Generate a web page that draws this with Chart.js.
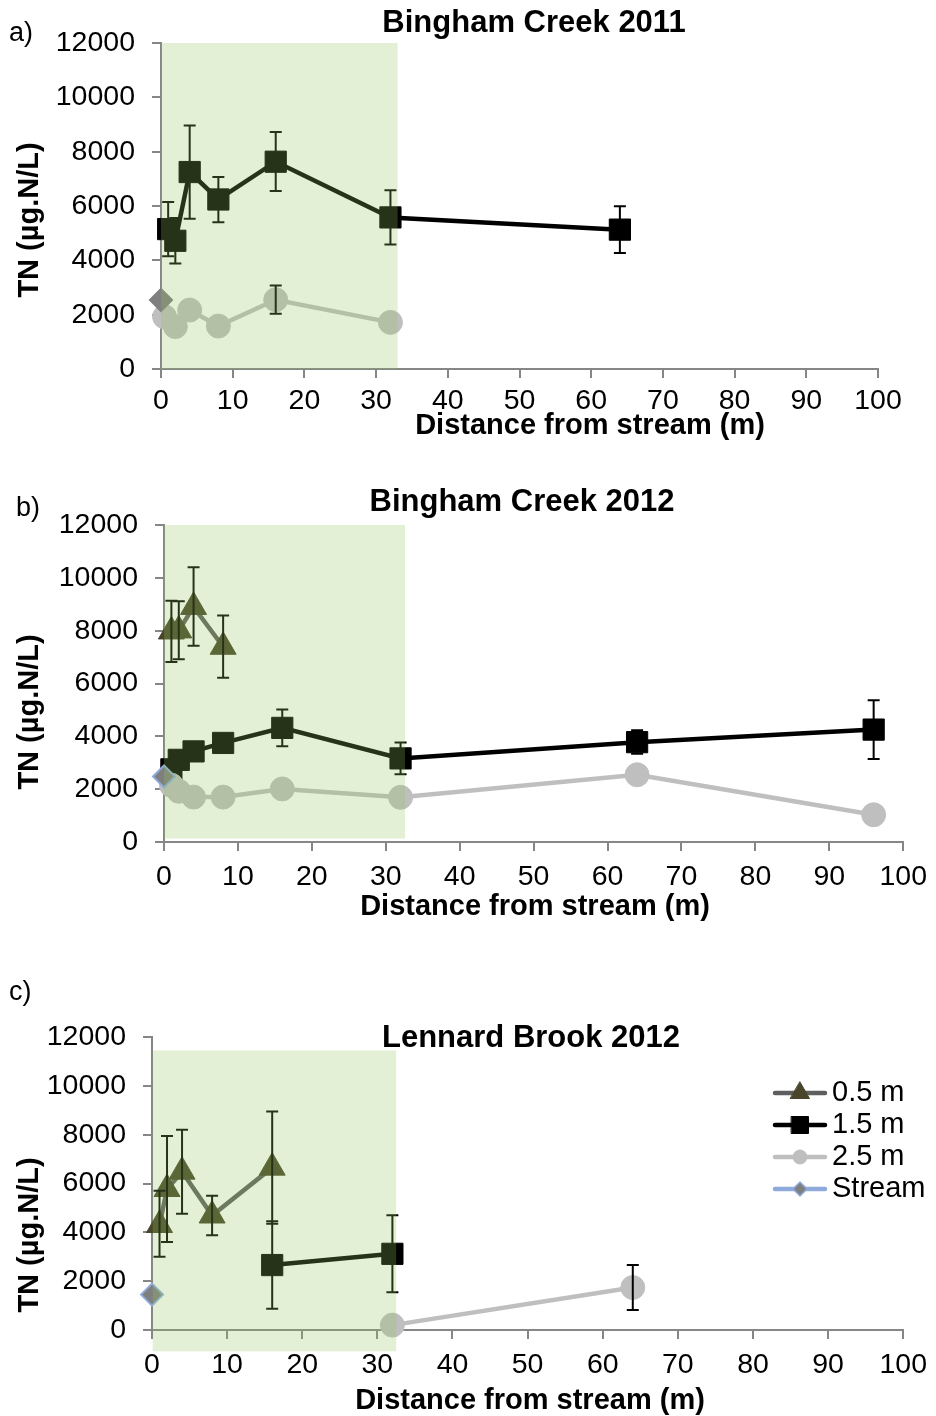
<!DOCTYPE html>
<html>
<head>
<meta charset="utf-8">
<script src="https://cdn.jsdelivr.net/npm/chart.js@4.4.1/dist/chart.umd.min.js"></script>
<style>
  html, body { margin:0; padding:0; background:#fff; }
  #wrap { position:relative; width:936px; height:1416px; overflow:hidden; }
  #wrap canvas { position:absolute; left:0; }
</style>
</head>
<body>
<div id="wrap">
  <canvas id="pa" width="936" height="460" style="top:0px"></canvas>
  <canvas id="pb" width="936" height="475" style="top:460px"></canvas>
  <canvas id="pc" width="936" height="481" style="top:935px"></canvas>
</div>
<script>
// ====== datos ======
const xTicks = [0, 10, 20, 30, 40, 50, 60, 70, 80, 90, 100];
const yTicks = [0, 2000, 4000, 6000, 8000, 10000, 12000];
const seriesNames = ['0.5 m', '1.5 m', '2.5 m', 'Stream'];

// a) Bingham Creek 2011
const aX15  = [1, 2, 4, 8, 16, 32, 64];
const aY15  = [5150, 4720, 7250, 6240, 7630, 5580, 5130];
const aLo15 = [4150, 3880, 5530, 5400, 6550, 4580, 4270];
const aHi15 = [6150, 5560, 8960, 7070, 8720, 6580, 5990];
const aX25  = [0.5, 2, 4, 8, 16, 32];
const aY25  = [1920, 1560, 2170, 1580, 2550, 1716];
const aLo25 = [null, null, null, null, 2030, null];
const aHi25 = [null, null, null, null, 3070, null];
const aXst  = [0];
const aYst  = [2540];
const aShadeX = [0, 33];
const aShadeY = [0, 12000];

// b) Bingham Creek 2012
const bX05  = [1, 2, 4, 8];
const bY05  = [7970, 8010, 8900, 7390];
const bLo05 = [6810, 6920, 7430, 6220];
const bHi05 = [9130, 9110, 10400, 8570];
const bX15  = [1, 2, 4, 8, 16, 32, 64, 96];
const bY15  = [2750, 3110, 3430, 3750, 4320, 3165, 3780, 4255];
const bLo15 = [null, null, null, null, 3620, 2560, 3340, 3140];
const bHi15 = [null, null, null, null, 5020, 3770, 4230, 5370];
const bX25  = [1, 2, 4, 8, 16, 32, 64, 96];
const bY25  = [2150, 1920, 1700, 1700, 2010, 1690, 2545, 1030];
const bXst  = [0];
const bYst  = [2480];
const bShadeX = [0, 32.6];
const bShadeY = [130, 12000];

// c) Lennard Brook 2012
const cX05  = [1, 2, 4, 8, 16];
const cY05  = [4300, 5775, 6485, 4690, 6650];
const cLo05 = [3000, 3600, 4765, 3877, 4350];
const cHi05 = [5700, 7950, 8205, 5500, 8950];
const cX15  = [16, 32];
const cY15  = [2660, 3120];
const cLo15 = [874, 1543];
const cHi15 = [4450, 4696];
const cX25  = [32, 64];
const cY25  = [200, 1740];
const cLo25 = [null, 819];
const cHi25 = [null, 2662];
const cXst  = [0];
const cYst  = [1450];
const cShadeX = [0.1, 32.5];
const cShadeY = [-870, 11450];

// ====== estilos ======
const FONT = '"Liberation Sans", Arial, Helvetica, sans-serif';
Chart.defaults.font.family = FONT;
Chart.defaults.color = '#000';

const STY = {
  '0.5 m':  { line:'#5f5f5f', fill:'#48452a', edge:'#48452a', ps:'triangle', r:15, lr:11, order:3 },
  '1.5 m':  { line:'#000000', fill:'#000000', edge:'#000000', ps:'rect',     r:15, lr:12, order:2 },
  '2.5 m':  { line:'#bfbfbf', fill:'#bfbfbf', edge:'#bfbfbf', ps:'circle',   r:12, lr:7,  order:1 },
  'Stream': { line:'#8eaadb', fill:'#7f7f7f', edge:'#8eaadb', ps:'rectRot',  r:11, lr:7,  order:0 }
};
const AXIS = '#868686';

function makeSet(name, xs, ys, lo, hi, edge){
  const s = STY[name];
  return {
    label: name,
    data: xs.map((x, i) => ({ x, y: ys[i] })),
    errLo: lo || [], errHi: hi || [],
    borderColor: s.line, borderWidth: 4.5, tension: 0, showLine: true, fill: false,
    pointStyle: s.ps, pointRadius: s.r, pointHoverRadius: s.r,
    pointBackgroundColor: s.fill, pointBorderColor: edge || s.edge, pointBorderWidth: name === 'Stream' ? 2 : 1,
    order: s.order, clip: false
  };
}

// --- plugins locales ---
const errorBars = {
  id: 'errorBars',
  afterDatasetsDraw(chart){
    const { ctx, scales:{ x, y } } = chart;
    ctx.save();
    ctx.strokeStyle = '#000'; ctx.lineWidth = 2;
    chart.data.datasets.forEach(ds => {
      ds.data.forEach((p, i) => {
        const lo = ds.errLo[i], hi = ds.errHi[i];
        if (lo == null || hi == null) return;
        const px = x.getPixelForValue(p.x);
        const yl = y.getPixelForValue(lo), yh = y.getPixelForValue(hi);
        ctx.beginPath();
        ctx.moveTo(px, yl); ctx.lineTo(px, yh);
        ctx.moveTo(px - 6, yl); ctx.lineTo(px + 6, yl);
        ctx.moveTo(px - 6, yh); ctx.lineTo(px + 6, yh);
        ctx.stroke();
      });
    });
    ctx.restore();
  }
};

const shadePlugin = {
  id: 'shade',
  afterDraw(chart, args, opts){
    const { ctx, scales:{ x, y } } = chart;
    const x0 = x.getPixelForValue(opts.xs[0]), x1 = x.getPixelForValue(opts.xs[1]);
    const y0 = y.getPixelForValue(opts.ys[0]), y1 = y.getPixelForValue(opts.ys[1]);
    ctx.save();
    ctx.fillStyle = 'rgba(147,197,93,0.26)';
    ctx.fillRect(x0, y1, x1 - x0, y0 - y1);
    ctx.restore();
  }
};

const textPlugin = {
  id: 'texts',
  afterDraw(chart, args, o){
    const { ctx } = chart;
    ctx.save();
    ctx.fillStyle = '#000';
    ctx.textBaseline = 'middle';
    ctx.font = `27px ${FONT}`; ctx.textAlign = 'left';
    ctx.fillText(o.letter.t, o.letter.x, o.letter.y);
    ctx.font = `bold 31px ${FONT}`; ctx.textAlign = 'center';
    ctx.fillText(o.title.t, o.title.x, o.title.y);
    ctx.font = `bold 29px ${FONT}`;
    ctx.fillText('Distance from stream (m)', o.xTitle.x, o.xTitle.y);
    ctx.translate(o.yTitle.x, o.yTitle.y); ctx.rotate(-Math.PI / 2);
    ctx.fillText('TN (µg.N/L)', 0, 0);
    ctx.restore();
  }
};

const legendPlugin = {
  id: 'sideLegend',
  afterDraw(chart, args, o){
    if (!o.show) return;
    const { ctx } = chart;
    ctx.save();
    seriesNames.forEach((name, i) => {
      const s = STY[name];
      const yy = o.y + i * o.step;
      ctx.strokeStyle = s.line; ctx.lineWidth = 4.5; ctx.lineCap = 'round';
      ctx.beginPath(); ctx.moveTo(o.x0, yy); ctx.lineTo(o.x1, yy); ctx.stroke();
      ctx.fillStyle = s.fill; ctx.strokeStyle = s.edge; ctx.lineWidth = name === 'Stream' ? 1.5 : 1;
      Chart.helpers.drawPoint(ctx, { pointStyle: s.ps, radius: s.lr, borderWidth: ctx.lineWidth, rotation: 0 }, (o.x0 + o.x1) / 2, yy);
      ctx.fillStyle = '#000'; ctx.font = `29px ${FONT}`; ctx.textBaseline = 'middle'; ctx.textAlign = 'left';
      ctx.fillText(name, o.tx, yy);
    });
    ctx.restore();
  }
};

function makePanel(id, datasets, shadeXs, shadeYs, L){
  return new Chart(document.getElementById(id), {
    type: 'line',
    data: { datasets },
    plugins: [errorBars, shadePlugin, textPlugin, legendPlugin],
    options: {
      responsive: false, animation: false, devicePixelRatio: 1,
      layout: { padding: { top: L.padTop, right: L.padRight, left: 0, bottom: 0 } },
      scales: {
        x: {
          type: 'linear', min: 0, max: 100,
          afterBuildTicks: s => { s.ticks = xTicks.map(v => ({ value: v })); },
          afterFit: s => { s.height = L.xH; },
          ticks: { callback: v => String(v), font: { size: 28.5, lineHeight: 1.2 }, color: '#000', padding: L.xPad, maxRotation: 0, autoSkip: false },
          grid: { drawOnChartArea: false, drawTicks: true, tickLength: 9, color: AXIS, lineWidth: 2 },
          border: { color: AXIS, width: 2 }
        },
        y: {
          type: 'linear', min: 0, max: 12000,
          afterBuildTicks: s => { s.ticks = yTicks.map(v => ({ value: v })); },
          afterFit: s => { s.width = L.yW; },
          ticks: { callback: v => String(v), font: { size: 28.5, lineHeight: 1.2 }, color: '#000', padding: 17, autoSkip: false },
          grid: { drawOnChartArea: false, drawTicks: true, tickLength: 9, color: AXIS, lineWidth: 2 },
          border: { color: AXIS, width: 2 }
        }
      },
      plugins: {
        legend: { display: false },
        tooltip: { enabled: false },
        title: { display: false },
        shade: { xs: shadeXs, ys: shadeYs },
        texts: L.texts,
        sideLegend: L.legend || { show: false }
      }
    }
  });
}

makePanel('pa', [
  makeSet('1.5 m', aX15, aY15, aLo15, aHi15),
  makeSet('2.5 m', aX25, aY25, aLo25, aHi25),
  makeSet('Stream', aXst, aYst, null, null, '#7f7f7f')
], aShadeX, aShadeY, {
  padTop: 43, padRight: 58, yW: 161, xH: 91, xPad: 6.5,
  texts: { letter:{ t:'a)', x:9, y:34 }, title:{ t:'Bingham Creek 2011', x:534, y:23 },
           xTitle:{ x:590, y:426 }, yTitle:{ x:30, y:220 } }
});

makePanel('pb', [
  makeSet('0.5 m', bX05, bY05, bLo05, bHi05),
  makeSet('1.5 m', bX15, bY15, bLo15, bHi15),
  makeSet('2.5 m', bX25, bY25),
  makeSet('Stream', bXst, bYst)
], bShadeX, bShadeY, {
  padTop: 65, padRight: 31, yW: 164, xH: 93, xPad: 9,
  texts: { letter:{ t:'b)', x:16, y:49 }, title:{ t:'Bingham Creek 2012', x:522, y:42 },
           xTitle:{ x:535, y:447 }, yTitle:{ x:30, y:252 } }
});

makePanel('pc', [
  makeSet('0.5 m', cX05, cY05, cLo05, cHi05),
  makeSet('1.5 m', cX15, cY15, cLo15, cHi15),
  makeSet('2.5 m', cX25, cY25, cLo25, cHi25),
  makeSet('Stream', cXst, cYst)
], cShadeX, cShadeY, {
  padTop: 102, padRight: 27, yW: 152, xH: 86, xPad: 9,
  texts: { letter:{ t:'c)', x:9, y:58 }, title:{ t:'Lennard Brook 2012', x:531, y:103 },
           xTitle:{ x:530, y:466 }, yTitle:{ x:30, y:300 } },
  legend: { show: true, x0: 775, x1: 825, tx: 832, y: 158, step: 32 }
});
</script>
</body>
</html>
